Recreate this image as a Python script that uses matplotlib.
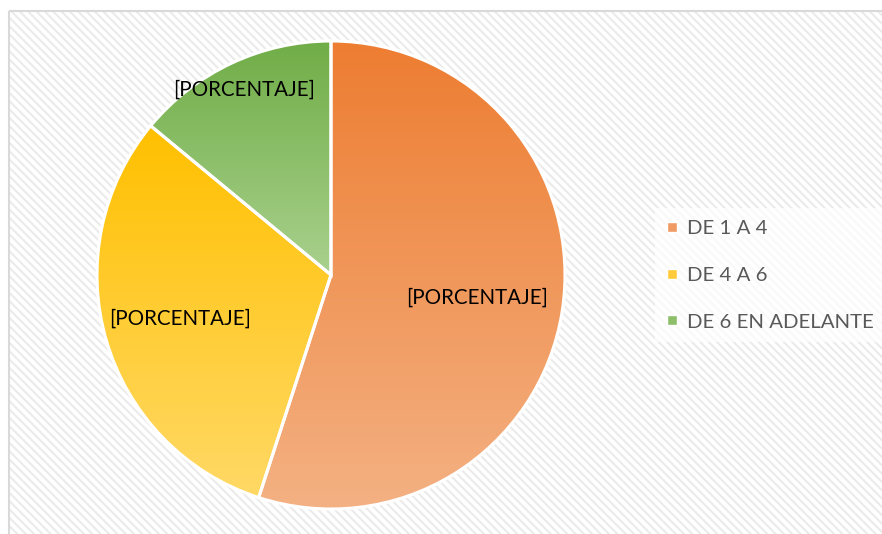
import numpy as np
import matplotlib.pyplot as plt
from matplotlib.patches import Rectangle
from matplotlib.lines import Line2D
from matplotlib.colors import LinearSegmentedColormap

# Datos
categories = ["DE 1 A 4", "DE 4 A 6", "DE 6 EN ADELANTE"]
values = [55, 31, 14]
slice_labels = ["[PORCENTAJE]", "[PORCENTAJE]", "[PORCENTAJE]"]
top_colors = ["#ED7D31", "#FFC000", "#70AD47"]
bottom_colors = ["#F4B183", "#FFD966", "#A9D18E"]
legend_colors = ["#F09B63", "#FFCB3A", "#8DBF6B"]
label_radius = [0.63, 0.67, 0.875]

plt.rcParams["font.family"] = ["Lato", "DejaVu Sans"]
plt.rcParams["hatch.linewidth"] = 1.5

fig = plt.figure(figsize=(8.82, 5.34), dpi=100)

# fondo rayado con borde
bg = fig.add_axes([0, 0, 1, 1])
bg.set_xlim(0, 882)
bg.set_ylim(534, 0)
bg.axis("off")
bg.add_patch(Rectangle((9, 11), 890, 540, facecolor="white", edgecolor="#EBEBEB",
                       hatch="\\\\\\\\", linewidth=0))
bg.add_patch(Rectangle((9, 11), 890, 540, facecolor="none", edgecolor="#D9D9D9",
                       linewidth=1.5))

# pastel
ax = fig.add_axes([97 / 882, 25 / 534, 468 / 882, 468 / 534])
wedges, _ = ax.pie(values, startangle=90, counterclock=False, radius=1,
                   wedgeprops=dict(edgecolor="white", linewidth=2.2))

for w, c_top, c_bot, txt, r in zip(wedges, top_colors, bottom_colors, slice_labels, label_radius):
    ext = w.get_path().get_extents()
    cmap = LinearSegmentedColormap.from_list("g", [c_top, c_bot])
    grad = np.linspace(0, 1, 256).reshape(-1, 1)
    im = ax.imshow(grad, cmap=cmap, extent=(ext.x0, ext.x1, ext.y0, ext.y1),
                   aspect="auto", zorder=1)
    im.set_clip_path(w)
    w.set_facecolor("none")
    w.set_zorder(2)
    mid = np.deg2rad((w.theta1 + w.theta2) / 2)
    ax.text(r * np.cos(mid), r * np.sin(mid), txt, ha="center", va="center",
            fontsize=14.8, color="black", zorder=3)
ax.set_xlim(-1, 1)
ax.set_ylim(-1, 1)

# leyenda
handles = [Line2D([], [], marker="s", linestyle="none", markerfacecolor=c,
                  markeredgecolor="white", markersize=7) for c in legend_colors]
fig.legend(handles, categories, loc="center left", bbox_to_anchor=(655 / 882, 1 - 275 / 534),
           frameon=True, facecolor="white", edgecolor="none", framealpha=0.7,
           fontsize=14.7, labelcolor="#595959", labelspacing=1.45, handlelength=0.6,
           handletextpad=0.4, borderpad=0.55, borderaxespad=0, fancybox=False)

fig.savefig("out.png", dpi=100)
